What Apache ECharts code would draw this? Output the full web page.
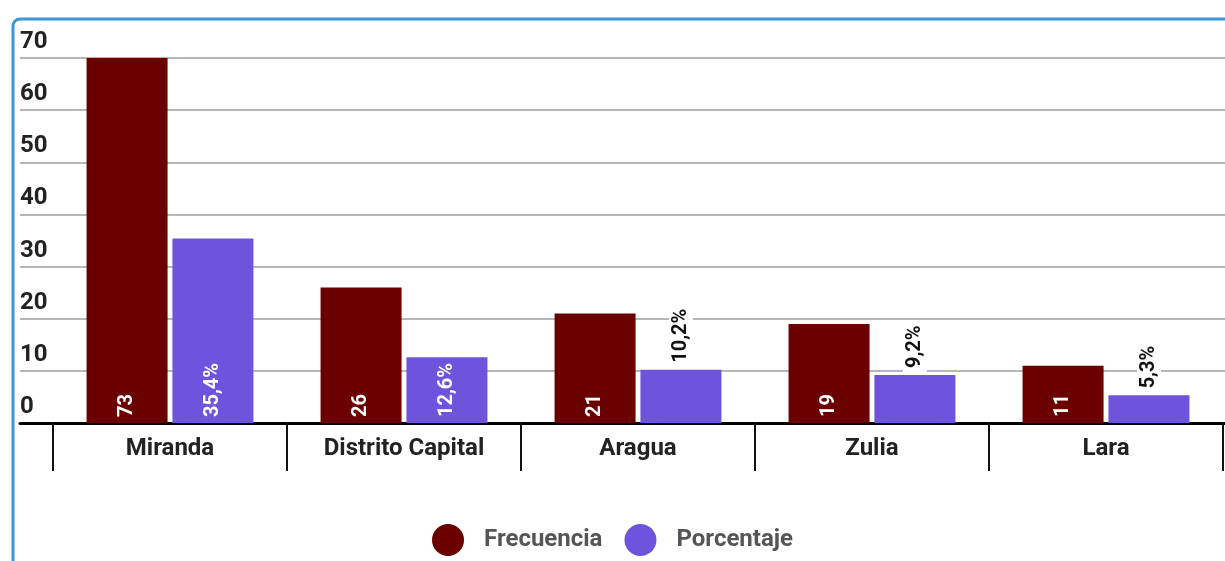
<!DOCTYPE html>
<html>
<head>
<meta charset="utf-8">
<script src="https://cdn.jsdelivr.net/npm/echarts@6/dist/echarts.min.js"></script>
<style>
html,body{margin:0;padding:0;background:#fff;}
#c{width:1225px;height:561px;}
</style>
</head>
<body>
<div id="c"></div>
<script>
const categories = ['Miranda', 'Distrito Capital', 'Aragua', 'Zulia', 'Lara'];
const frecuencia = [73, 26, 21, 19, 11];
const porcentaje = [35.4, 12.6, 10.2, 9.2, 5.3];
const yTicks = [0, 10, 20, 30, 40, 50, 60, 70];

const FONT = 'Roboto';
const chart = echarts.init(document.getElementById('c'), null, {renderer: 'canvas'});

function pctText(v) { return v.toFixed(1).replace('.', ',') + '%'; }

const insideLabel = {
  show: true, position: 'insideBottom', rotate: 90, align: 'left', verticalAlign: 'middle',
  distance: 6, color: '#fff', fontFamily: FONT, fontWeight: 'bold', fontSize: 20
};
const outsideLabel = {
  show: true, position: 'top', rotate: 90, align: 'left', verticalAlign: 'middle',
  distance: 3, color: '#111', fontFamily: FONT, fontWeight: 'bold', fontSize: 20,
  backgroundColor: '#fff', padding: [2, 4]
};

chart.setOption({
  animation: false,
  graphic: [{
    type: 'rect', z: -10,
    shape: {x: 13, y: 19, width: 1400, height: 700, r: 7},
    style: {fill: 'none', stroke: '#3b97d5', lineWidth: 3}
  }],
  legend: {
    data: ['Frecuencia', 'Porcentaje'],
    left: 'center', top: 519,
    icon: 'circle', itemWidth: 32, itemHeight: 32, itemGap: 22,
    textStyle: {fontFamily: FONT, fontWeight: 'bold', fontSize: 24, color: '#555', padding: [0, 0, 0, 15]}
  },
  grid: [
    {left: 20, right: 0, top: 58, bottom: 138},
    {left: 53, width: 1170, top: 58, bottom: 138}
  ],
  xAxis: [
    {
      gridIndex: 0, type: 'value', min: 0, max: 1,
      axisLine: {show: true, onZero: false, lineStyle: {color: '#000', width: 3}},
      axisTick: {show: false}, axisLabel: {show: false}, splitLine: {show: false}
    },
    {
      gridIndex: 1, type: 'category', data: categories,
      axisLine: {show: false},
      axisTick: {show: true, length: 48, lineStyle: {color: '#111', width: 2}},
      axisLabel: {margin: 14, color: '#222', fontFamily: FONT, fontWeight: 'bold', fontSize: 24}
    }
  ],
  yAxis: [
    {
      gridIndex: 0, type: 'value', min: yTicks[0], max: yTicks[yTicks.length - 1], interval: 10,
      axisLine: {show: false}, axisTick: {show: false},
      axisLabel: {inside: true, margin: 0, align: 'left', verticalAlign: 'bottom', padding: [0, 0, 4, 0],
        color: '#222', fontFamily: FONT, fontWeight: 'bold', fontSize: 24},
      splitLine: {show: true, lineStyle: {color: '#9e9e9e', width: 1.5}}
    },
    {
      gridIndex: 1, type: 'value', min: yTicks[0], max: yTicks[yTicks.length - 1], interval: 10,
      show: false
    }
  ],
  series: [
    {
      name: 'Frecuencia', type: 'bar', xAxisIndex: 1, yAxisIndex: 1,
      data: frecuencia, barWidth: 81, barGap: '6%', clip: true,
      itemStyle: {color: '#6b0000'},
      label: insideLabel
    },
    {
      name: 'Porcentaje', type: 'bar', xAxisIndex: 1, yAxisIndex: 1,
      data: porcentaje.map(v => ({
        value: v,
        label: Object.assign({}, v >= 12 ? insideLabel : outsideLabel, {formatter: p => pctText(p.value)})
      })),
      barWidth: 81, barGap: '6%', clip: true,
      itemStyle: {color: '#6e54dc'},
      label: Object.assign({}, insideLabel, {formatter: p => pctText(p.value)})
    }
  ]
});
</script>
</body>
</html>
